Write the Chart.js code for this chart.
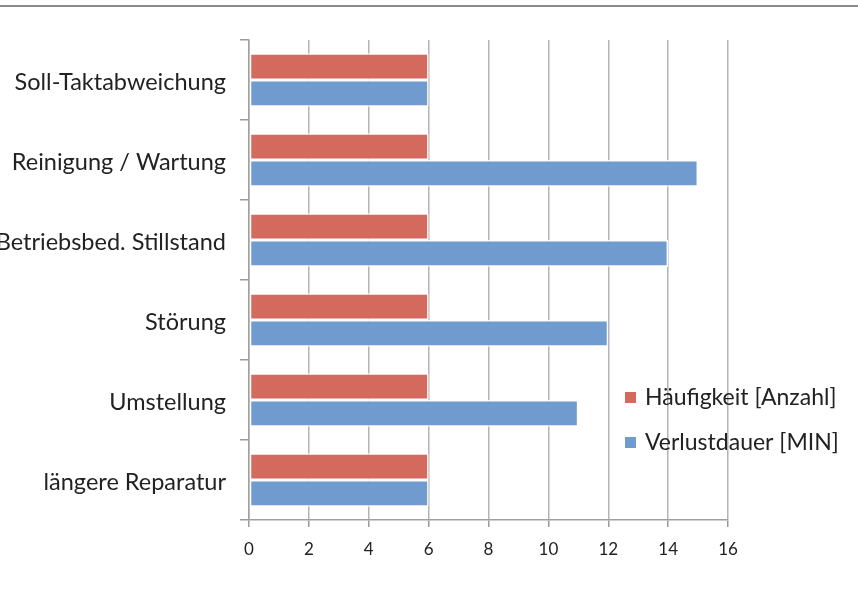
<!DOCTYPE html>
<html><head><meta charset="utf-8">
<script src="https://cdn.jsdelivr.net/npm/chart.js@4"></script>
<style>html,body{margin:0;padding:0;background:#fff;}#wrap{width:858px;height:594px;position:relative;}</style>
</head><body><div id="wrap"><canvas id="c" width="858" height="594"></canvas></div>
<script>
const categories = ["Soll-Taktabweichung", "Reinigung / Wartung", "Betriebsbed. Stillstand", "Störung", "Umstellung", "längere Reparatur"];
const haeufigkeit = [6, 6, 6, 6, 6, 6];
const verlustdauer = [6, 15, 14, 12, 11, 6];
const seriesNames = ["Häufigkeit [Anzahl]", "Verlustdauer [MIN]"];
const xTicks = [0, 2, 4, 6, 8, 10, 12, 14, 16];

const FONT = "Lato, 'Open Sans', sans-serif";

const extras = {
  id: 'extras',
  beforeDraw(chart) {
    const ctx = chart.ctx;
    ctx.save();
    ctx.strokeStyle = '#8a8a8a';
    ctx.lineWidth = 2;
    ctx.beginPath(); ctx.moveTo(0, 6); ctx.lineTo(chart.width, 6); ctx.stroke();
    ctx.restore();
  },
  afterDraw(chart) {
    const ctx = chart.ctx;
    ctx.save();
    ctx.font = "23px " + FONT;
    ctx.textBaseline = 'middle';
    ctx.textAlign = 'left';
    const x0 = 625, ys = [397, 442];
    chart.data.datasets.forEach((ds, i) => {
      ctx.fillStyle = ds.backgroundColor;
      ctx.fillRect(x0, ys[i] - 5, 11, 11);
      ctx.fillStyle = '#222';
      ctx.fillText(ds.label, x0 + 20, ys[i] + 1);
    });
    ctx.restore();
  }
};

new Chart(document.getElementById('c'), {
  type: 'bar',
  data: {
    labels: categories,
    datasets: [
      { label: seriesNames[0], data: haeufigkeit, backgroundColor: '#d4695e', borderColor: '#ffffff', borderWidth: 1.5, borderSkipped: false, categoryPercentage: 0.67, barPercentage: 1.0 },
      { label: seriesNames[1], data: verlustdauer, backgroundColor: '#6f9bcf', borderColor: '#ffffff', borderWidth: 1.5, borderSkipped: false, categoryPercentage: 0.67, barPercentage: 1.0 }
    ]
  },
  options: {
    indexAxis: 'y',
    responsive: false,
    animation: false,
    devicePixelRatio: 1,
    layout: { padding: { top: 40, right: 130, bottom: 0, left: 0 } },
    plugins: { legend: { display: false }, tooltip: { enabled: false } },
    scales: {
      x: {
        min: 0, max: 16,
        afterFit(s) { s.height = 74; },
        afterBuildTicks(s) { s.ticks = xTicks.map(v => ({ value: v })); },
        grid: { color: '#b4b4b4', lineWidth: 1.5, tickLength: 7, tickColor: '#9a9a9a' },
        border: { color: '#a0a0a0', width: 1.5 },
        ticks: { font: { family: FONT, size: 17 }, color: '#222', padding: 12, maxRotation: 0 }
      },
      y: {
        afterFit(s) { s.width = 249; },
        grid: { drawOnChartArea: false, offset: true, tickLength: 9, color: '#9a9a9a', lineWidth: 1.5 },
        border: { color: '#a0a0a0', width: 1.5 },
        ticks: { font: { family: FONT, size: 23.5 }, color: '#222', padding: 14, labelOffset: 2 }
      }
    }
  },
  plugins: [extras]
});
</script></body></html>
